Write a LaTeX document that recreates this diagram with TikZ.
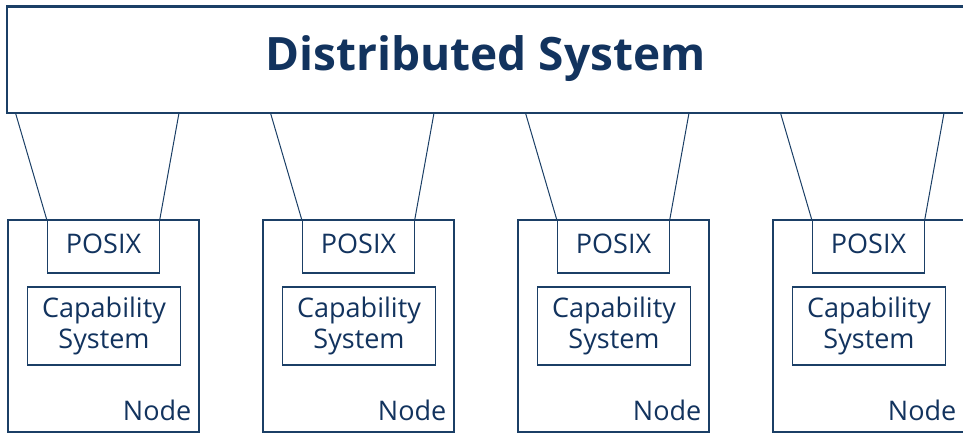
\documentclass[tikz,border=0pt]{standalone}
\usepackage{fontspec}
\setmainfont{Open Sans}
\definecolor{navy}{HTML}{12335E}
\definecolor{edge}{HTML}{1B3F66}
\tikzset{
  sysbox/.style={draw=edge, line width=2.6pt, fill=white, minimum width=957pt, minimum height=106.5pt, inner sep=0pt},
  hostbox/.style={draw=edge, line width=2pt, minimum width=191.5pt, minimum height=212pt, inner sep=0pt},
  posixbox/.style={draw=edge, line width=1.1pt, minimum width=112pt, minimum height=53pt, inner sep=0pt},
  boxtext/.style={text=navy, inner sep=0pt, align=center, font=\fontsize{27}{31}\selectfont},
  capbox/.style={draw=edge, line width=1.1pt, minimum width=153pt, minimum height=78pt, inner sep=0pt, text=navy, align=center, font=\fontsize{27}{31}\selectfont},
  hostlabel/.style={text=navy, anchor=south east, inner sep=0pt, font=\fontsize{27}{31}\selectfont},
  link/.style={draw=edge, line width=1pt}
}
\begin{document}
\begin{tikzpicture}[x=1pt,y=-1pt]
\useasboundingbox (0,0) rectangle (963,433);
\node[sysbox] (sys) at (485.5,59.75) {};
\node[text=navy, font=\fontsize{46}{50}\selectfont\bfseries] (title) at (485.5,58.5) {Distributed System};
\foreach \k in {0,1,2,3}{
  \pgfmathsetmacro{\L}{7.5+255*\k}
  \node[hostbox] (host\k) at (\L+95.75,326) {};
  \node[posixbox] (posix\k) at (\L+95.75,246.5) {};
  \node[boxtext] (ptext\k) at (\L+96,243.5) {POSIX};
  \node[capbox] (cap\k) at (\L+96.5,326) {Capability\\System};
  \node[hostlabel] (lbl\k) at (\L+184,421) {Node};
  \coordinate (a\k) at (\L+8,113);
  \coordinate (b\k) at (\L+171.5,113);
  \draw[link] (a\k) -- (posix\k.north west);
  \draw[link] (b\k) -- (posix\k.north east);
}
\end{tikzpicture}
\end{document}
